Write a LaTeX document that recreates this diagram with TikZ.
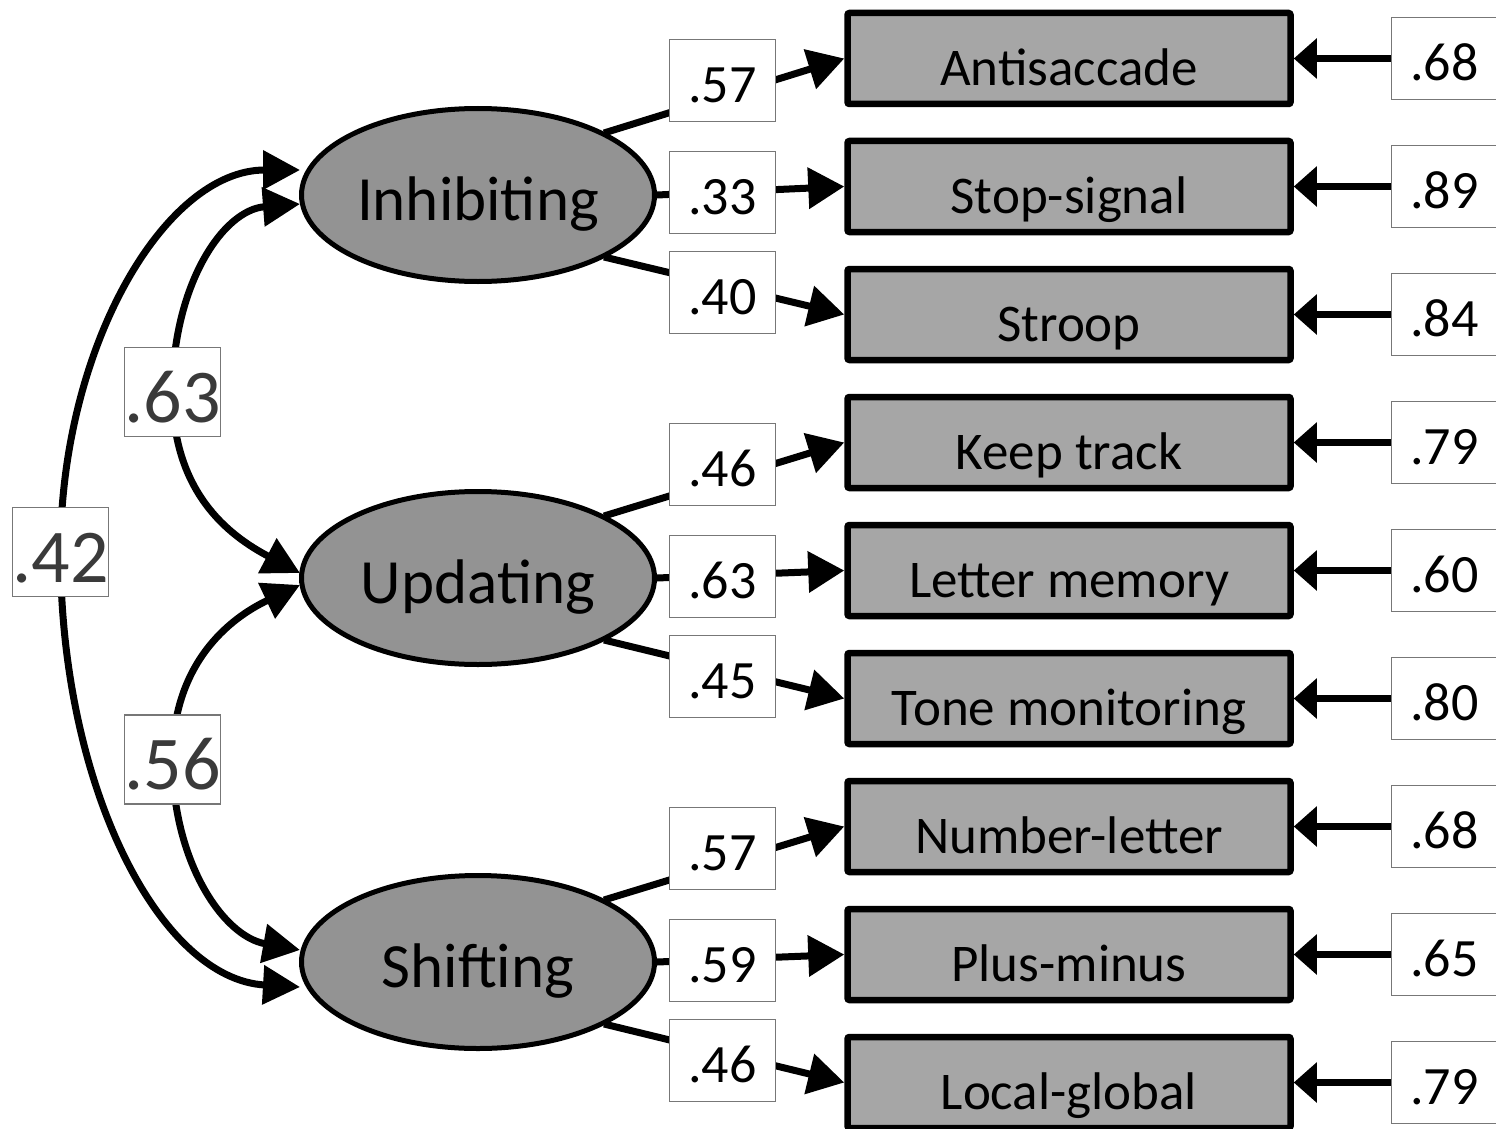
\documentclass[tikz,border=0pt]{standalone}
\usepackage{fontspec}
\setmainfont{Carlito}
\usetikzlibrary{arrows.meta,shapes.geometric,calc}

\definecolor{factorfill}{HTML}{939393}
\definecolor{taskfill}{HTML}{A6A6A6}
\definecolor{labeledge}{HTML}{777777}
\definecolor{corrtext}{HTML}{3A3A3A}

\begin{document}
\begin{tikzpicture}[x=1pt,y=1pt,
  factor/.style={ellipse, draw=black, line width=5pt, fill=factorfill,
    minimum width=353pt, minimum height=173pt, inner sep=0pt,
    font=\fontsize{63}{70}\selectfont, text height=50pt, text depth=0pt},
  task/.style={rectangle, draw=black, line width=6.5pt, fill=taskfill,
    rounded corners=2pt, minimum width=443pt, minimum height=91pt,
    inner sep=0pt, font=\fontsize{53}{60}\selectfont,
    text height=54pt, text depth=0pt},
  coef/.style={rectangle, draw=labeledge, line width=1.5pt, fill=white,
    minimum width=106pt, minimum height=82pt, inner sep=0pt,
    font=\fontsize{54}{60}\selectfont, text height=44pt, text depth=0pt},
  corrbox/.style={rectangle, draw=labeledge, line width=1.5pt, fill=white,
    minimum width=94pt, minimum height=89pt, inner sep=0pt, text=corrtext,
    font=\fontsize{76}{84}\selectfont, text height=60pt, text depth=0pt},
  loading/.style={line width=7pt, -{Triangle[length=36pt,width=40pt]}},
  residual/.style={line width=7pt, -{Triangle[length=23pt,width=39pt]}},
  covar/.style={line width=7pt,
    {Triangle[length=37pt,width=38pt]}-{Triangle[length=37pt,width=38pt]}},
]
\useasboundingbox (0,0) rectangle (1496,-1129);

% latent factors
\node[factor] (inh) at (478,-195) {Inhibiting};
\node[factor] (upd) at (478,-578) {Updating};
\node[factor] (shi) at (478,-962) {Shifting};

% observed tasks with their residual variances
\foreach \name/\txt/\res [count=\i from 0] in {
    anti/Antisaccade/.68, stop/Stop-signal/.89, stroop/Stroop/.84,
    keep/Keep track/.79, letter/Letter memory/.60, tone/Tone monitoring/.80,
    numlet/Number-letter/.68, plusmin/Plus-minus/.65, locglob/Local-global/.79}{
  \node[task] (\name) at (1069,{-58.5-128*\i}) {\txt};
  \node[coef] (e\name) at (1444.5,{-58.5-128*\i}) {\res};
  \draw[residual] (e\name) -- (\name);
}

% factor loadings: upper, middle and lower path of each factor
\foreach \f/\ta/\tb/\tc in {inh/anti/stop/stroop, upd/keep/letter/tone,
    shi/numlet/plusmin/locglob}{
  \coordinate (\f up) at ($(\f.center)+(126,62)$);
  \coordinate (\f lo) at ($(\f.center)+(126,-62)$);
  \draw[loading] (\f up) -- (\ta.west);
  \draw[loading] (\f.east) -- (\tb.west);
  \draw[loading] (\f lo) -- (\tc.west);
}
\foreach \name/\v/\yy in {
    anti/.57/80.5, stop/.33/192.5, stroop/.40/292.5,
    keep/.46/464.5, letter/.63/576.5, tone/.45/676.5,
    numlet/.57/848.5, plusmin/.59/960.5, locglob/.46/1060.5}{
  \node[coef] (l\name) at (722.5,-\yy) {\v};
}

% factor correlations
\coordinate (inhA) at ($(inh.center)+(-178,25)$);
\coordinate (inhB) at ($(inh.center)+(-178,-9)$);
\coordinate (updA) at ($(upd.center)+(-178,5)$);
\coordinate (updB) at ($(upd.center)+(-178,-7)$);
\coordinate (shiA) at ($(shi.center)+(-178,12)$);
\coordinate (shiB) at ($(shi.center)+(-178,-25)$);
\coordinate (c42) at (60.5,-552);
\coordinate (c63) at (172.5,-392);
\coordinate (c56) at (172.5,-759.5);

\draw[covar] (inhA) .. controls +(-135,0) and +(0,205) .. (c42)
  .. controls +(0,-235) and +(-140,8) .. (shiB);
\draw[covar] (inhB) .. controls +(-78,-6) and +(0,105) .. (c63)
  .. controls +(0,-100) and +(-72,38) .. (updA);
\draw[covar] (updB) .. controls +(-72,-34) and +(0,95) .. (c56)
  .. controls +(0,-100) and +(-78,14) .. (shiA);

\node[corrbox] (r42) at (c42) {.42};
\node[corrbox] (r63) at (c63) {.63};
\node[corrbox] (r56) at (c56) {.56};
\end{tikzpicture}
\end{document}
